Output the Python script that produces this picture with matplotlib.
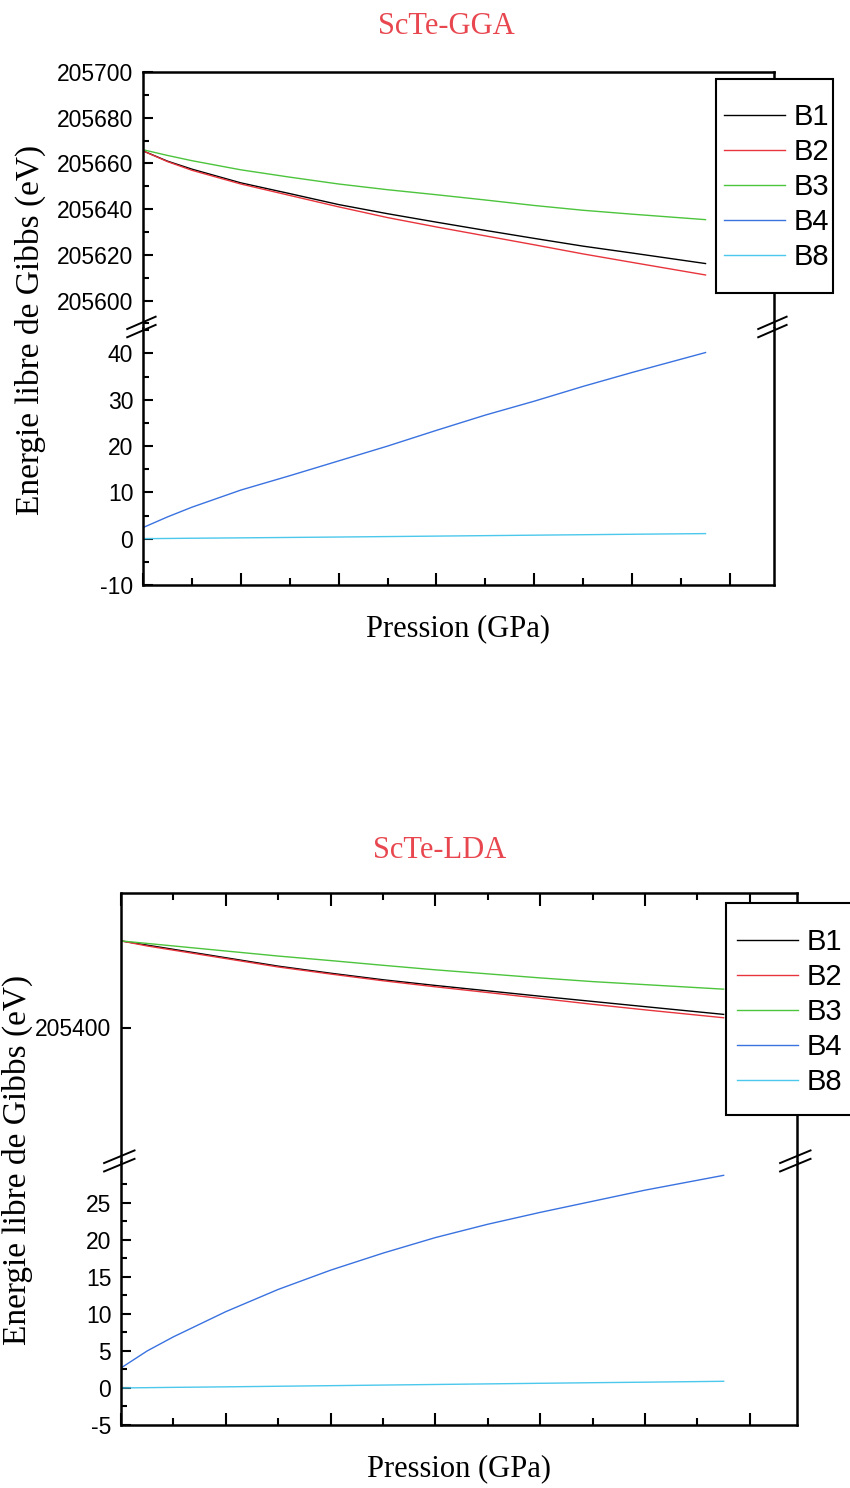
import matplotlib.pyplot as plt
import numpy as np
from matplotlib.lines import Line2D
from matplotlib.patches import Rectangle
from matplotlib.ticker import MultipleLocator, NullLocator, NullFormatter, FixedLocator

plt.rcParams['font.family'] = ['Liberation Sans', 'DejaVu Sans']

W, H = 850, 1488

pression = [0, 5, 10, 20, 30, 40, 50, 60, 70, 80, 90, 100, 115]
noms = ['B1', 'B2', 'B3', 'B4', 'B8']
couleurs = ['black', '#e8343c', '#4cc43c', '#3a72e0', '#4cc8ec']

# ScTe-GGA (eV)
gga_B1 = [205665.5, 205661.0, 205657.5, 205651.5, 205646.8, 205642.0, 205638.0,
          205634.3, 205630.7, 205627.2, 205623.8, 205620.8, 205616.2]
gga_B2 = [205665.5, 205660.8, 205657.0, 205651.0, 205646.0, 205641.0, 205636.3,
          205632.2, 205628.3, 205624.4, 205620.4, 205616.7, 205611.2]
gga_B3 = [205666.0, 205663.5, 205661.2, 205657.2, 205654.0, 205651.0, 205648.5,
          205646.3, 205644.0, 205641.6, 205639.5, 205637.8, 205635.4]
gga_B4 = [2.4, 4.7, 6.8, 10.5, 13.6, 16.8, 20.0, 23.4, 26.7, 29.7, 32.9, 35.9, 40.2]
gga_B8 = [0.0, 0.05, 0.1, 0.18, 0.27, 0.36, 0.46, 0.56, 0.66, 0.76, 0.86, 0.96, 1.1]

# ScTe-LDA (eV)
lda_B1 = [205451.5, 205449.0, 205446.5, 205441.5, 205436.5, 205432.3, 205428.4,
          205425.0, 205421.8, 205418.6, 205415.5, 205412.4, 205407.8]
lda_B2 = [205451.5, 205448.5, 205446.0, 205441.0, 205436.0, 205431.8, 205427.8,
          205424.2, 205420.8, 205417.3, 205413.8, 205410.5, 205405.8]
lda_B3 = [205451.5, 205450.0, 205448.5, 205445.5, 205442.5, 205439.8, 205437.0,
          205434.3, 205431.9, 205429.5, 205427.3, 205425.5, 205422.8]
lda_B4 = [2.7, 5.0, 6.9, 10.3, 13.3, 15.9, 18.2, 20.3, 22.1, 23.7, 25.2, 26.7, 28.7]
lda_B8 = [0.0, 0.04, 0.08, 0.15, 0.23, 0.31, 0.39, 0.47, 0.55, 0.63, 0.71, 0.78, 0.9]


def rectPx(gauche, droite, haut, bas):
    return [gauche / W, 1 - bas / H, (droite - gauche) / W, (bas - haut) / H]


def styleAxe(ax):
    for s in ax.spines.values():
        s.set_linewidth(1.8)
    ax.tick_params(which='both', direction='in', labelsize=16.5, width=1.5, pad=7,
                   right=False, top=False, bottom=False)
    ax.tick_params(axis='y', which='major', length=7)
    ax.tick_params(axis='y', which='minor', length=4)
    ax.tick_params(axis='x', which='major', length=9)
    ax.tick_params(axis='x', which='minor', length=5)
    ax.xaxis.set_major_locator(MultipleLocator(20))
    ax.xaxis.set_minor_locator(MultipleLocator(10))
    ax.xaxis.set_major_formatter(NullFormatter())
    ax.set_xlim(0, 129)


def cassure(ax, xAxe):
    # deux traits obliques sur l'axe a la jonction
    kw = dict(transform=ax.transAxes, color='black', lw=1.4, clip_on=False, zorder=10)
    for dy in (-0.012, 0.02):
        ax.add_line(Line2D([xAxe - 0.025, xAxe + 0.02], [1 + dy - 0.024, 1 + dy + 0.024], **kw))


def tracePanneau(fig, rectHaut, rectBas, series, limHaut, limBas, pasHaut, ticksBas,
                 ticksHaut, titre, posTitre, posYLabel, legendeBox, legendeAncre):
    axH = fig.add_axes(rectHaut)
    axB = fig.add_axes(rectBas)
    for ax in (axH, axB):
        for i in range(len(noms)):
            ax.plot(pression, series[i], color=couleurs[i], lw=1.0, label=noms[i])
        styleAxe(ax)
    axH.set_ylim(*limHaut)
    axB.set_ylim(*limBas)
    axH.spines['bottom'].set_visible(False)
    axB.spines['top'].set_visible(False)
    axH.tick_params(which='both', top=ticksHaut)
    axB.tick_params(which='both', bottom=True)
    axH.yaxis.set_major_locator(MultipleLocator(pasHaut[0]))
    if pasHaut[1]:
        axH.yaxis.set_minor_locator(MultipleLocator(pasHaut[1]))
    else:
        axH.yaxis.set_minor_locator(NullLocator())
    axB.yaxis.set_major_locator(FixedLocator(ticksBas[0]))
    axB.yaxis.set_minor_locator(FixedLocator(ticksBas[1]))
    axH.yaxis.set_major_formatter(plt.FuncFormatter(lambda v, p: '%d' % round(v)))
    axB.yaxis.set_major_formatter(plt.FuncFormatter(lambda v, p: '%d' % round(v)))
    cassure(axB, 0.0)
    cassure(axB, 1.0)

    fig.text(posTitre[0], posTitre[1], titre, color='#e8474f',
             family='Liberation Serif', fontsize=22, ha='center', va='center')
    axB.set_xlabel('Pression (GPa)', family='Liberation Serif', fontsize=22, labelpad=14)
    fig.text(posYLabel[0], posYLabel[1], 'Energie libre de Gibbs (eV)', rotation=90,
             family='Liberation Serif', fontsize=24, ha='center', va='center')

    fig.add_artist(Rectangle((legendeBox[0], legendeBox[1]), legendeBox[2], legendeBox[3],
                             transform=fig.transFigure, facecolor='white', edgecolor='black',
                             lw=1.5, zorder=5))
    leg = axH.legend(loc='upper left', bbox_to_anchor=legendeAncre, bbox_transform=fig.transFigure,
                     frameon=False, fontsize=21, handlelength=2.1, handletextpad=0.3,
                     labelspacing=0.24, borderpad=0, borderaxespad=0)
    leg.set_zorder(6)
    fig.add_artist(leg)
    return axH, axB


fig = plt.figure(figsize=(W / 100, H / 100), dpi=100)

tracePanneau(fig, rectPx(143, 774, 72, 328), rectPx(143, 774, 328, 585),
             [gga_B1, gga_B2, gga_B3, gga_B4, gga_B8],
             (205588, 205700), (-10, 45.5), (20, 10),
             (np.arange(-10, 41, 10), np.arange(-10, 46, 5)), False,
             'ScTe-GGA', (446 / W, 1 - 27 / H), (30 / W, 1 - 330 / H),
             (716 / W, 1 - 293 / H, 117 / W, 214 / H), (724 / W, 1 - 103 / H))

tracePanneau(fig, rectPx(121, 797, 893, 1162), rectPx(121, 797, 1162, 1425),
             [lda_B1, lda_B2, lda_B3, lda_B4, lda_B8],
             (205320, 205480), (-5, 30.5), (200, None),
             (np.arange(-5, 26, 5), np.arange(-5, 28, 2.5)), True,
             'ScTe-LDA', (440 / W, 1 - 850 / H), (17 / W, 1 - 1160 / H),
             (726 / W, 1 - 1115 / H, 140 / W, 212 / H), (737 / W, 1 - 928 / H))

plt.savefig('out.png', dpi=100)
